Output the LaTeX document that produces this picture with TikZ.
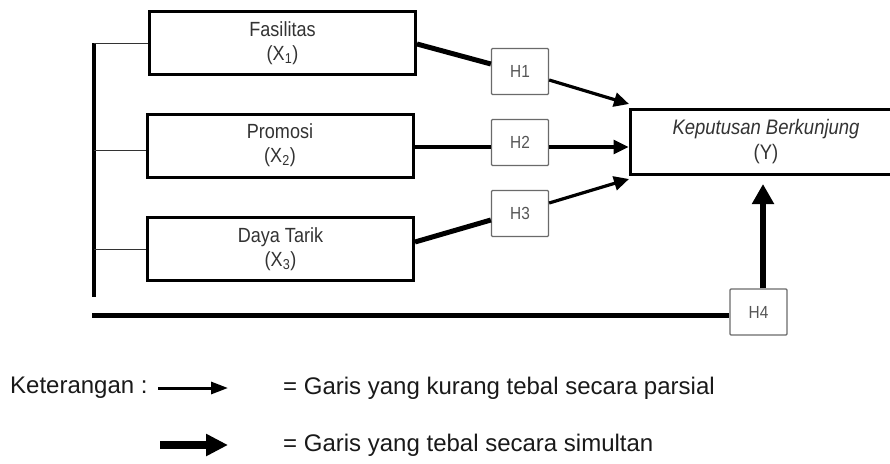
\documentclass[tikz,border=0pt]{standalone}
\usepackage{fontspec}
\setmainfont{Liberation Sans}
\newfontfamily\narrowfont[FakeStretch=0.88]{Liberation Sans}
\usetikzlibrary{arrows.meta}
\definecolor{txtgray}{HTML}{333333}
\definecolor{hgray}{HTML}{555555}
\definecolor{hborder}{HTML}{6A6A6A}
\tikzset{
  varbox/.style={draw=black, line width=3pt, fill=white, minimum width=266pt, minimum height=63pt,
    align=center, text=txtgray, font=\narrowfont\fontsize{20.5}{24}\selectfont, inner sep=0pt},
  hbox/.style={draw=hborder, line width=1.3pt, rounded corners=1pt, fill=white, minimum width=57pt,
    minimum height=46pt, text=hgray, font=\narrowfont\fontsize{17.5}{19}\selectfont, inner sep=0pt},
  thinarrow/.style={line width=3.2pt, -{Triangle[length=15pt,width=14pt]}},
  thickline/.style={line width=5pt},
  bracket/.style={line width=0.9pt, draw=black!80},
  legtext/.style={font=\fontsize{24}{28}\selectfont, text=black!90, inner sep=0pt, anchor=west}
}
\begin{document}
\begin{tikzpicture}[x=1pt,y=-1pt]
\useasboundingbox (0,0) rectangle (890,463);
\clip (0,0) rectangle (890,463);
% variable boxes
\node[varbox] (X1) at (282.5,43) {Fasilitas\\(X\textsubscript{1})};
\node[varbox] (X2) at (280,145.5) {Promosi\\(X\textsubscript{2})};
\node[varbox] (X3) at (280.5,249) {Daya Tarik\\(X\textsubscript{3})};
\node[varbox, minimum width=272pt, minimum height=65pt, font=\narrowfont\itshape\fontsize{21}{25}\selectfont] (Y) at (766,142) {Keputusan Berkunjung\\\upshape(Y)};
% hypothesis boxes
\node[hbox] (H1) at (520,71.5) {H1};
\node[hbox] (H2) at (520,142.5) {H2};
\node[hbox] (H3) at (520,213.5) {H3};
\node[hbox] (H4) at (758.5,312) {H4};
% left bracket
\coordinate (Btop) at (94,43);
\coordinate (Bbot) at (94,297);
\draw[line width=4.5pt] (Btop) -- (Bbot);
\draw[bracket] (Btop) -- (X1.west);
\draw[bracket] (94,150) -- (X2.west |- 0,150);
\draw[bracket] (94,249) -- (X3.west);
% bottom line to H4
\coordinate (Lstart) at (92,315);
\draw[line width=5pt] (Lstart) -- (H4.west |- Lstart);
\draw[line width=6.5pt, -{Triangle[length=20pt,width=21pt]}] (H4.north -| 763,0) -- (763,184);
% connectors
\draw[thickline] (X1.east |- 0,44) -- (H1.west |- 0,64);
\draw[thinarrow] (H1.east |- 0,80) -- (629,104);
\draw[line width=3.2pt] (X2.east |- 0,147) -- (H2.west |- 0,147);
\draw[thinarrow] (H2.east |- 0,147) -- (Y.west |- 0,147);
\draw[thickline] (X3.east |- 0,242) -- (H3.west |- 0,220);
\draw[thinarrow] (H3.east |- 0,203) -- (629,179);
% legend
\node[legtext] (K) at (10,388) {Keterangan :};
\coordinate (La) at (158,388);
\coordinate (Lb) at (228,388);
\draw[line width=3pt, -{Triangle[length=17pt,width=12pt]}] (La) -- (Lb);
\coordinate (Lc) at (160,445);
\coordinate (Ld) at (228,445);
\draw[line width=8pt, -{Triangle[length=22pt,width=21pt]}] (Lc) -- (Ld);
\node[legtext] (T1) at (283,388) {= Garis yang kurang tebal secara parsial};
\node[legtext] (T2) at (283,445) {= Garis yang tebal secara simultan};
\end{tikzpicture}
\end{document}
